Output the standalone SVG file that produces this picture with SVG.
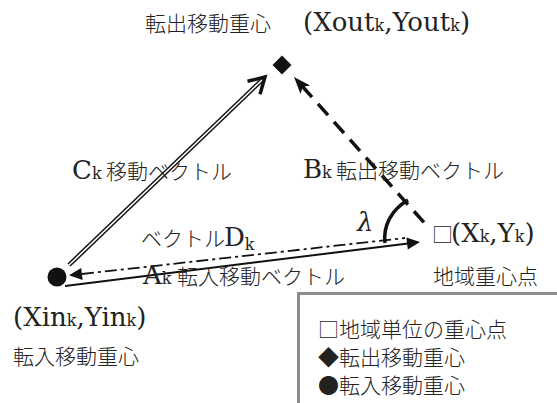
<svg xmlns="http://www.w3.org/2000/svg" width="557" height="403" viewBox="0 0 557 403">
<style>
.j{font-family:"Noto Sans CJK JP",sans-serif;font-size:21px;font-weight:300;fill:#222}
.l{font-family:"DejaVu Serif",serif;font-size:26px;fill:#222}
.s{font-size:16px}
.fill{fill:#111;stroke:none}
</style>
<rect width="557" height="403" fill="#fff"/>
<g id="connectors" fill="none" stroke="#111">
  <g id="vecC">
    <line x1="69" y1="265" x2="262" y2="80" stroke-width="4.5"/>
    <line x1="69" y1="265" x2="262" y2="80" stroke="#fff" stroke-width="1.6"/>
    <polyline points="247.5,81.3 265,77 260,94.3" stroke-width="3.5"/>
  </g>
  <g id="vecB">
    <line x1="302" y1="86" x2="428" y2="227" stroke-width="3.5" stroke-dasharray="15 9"/>
    <polygon class="fill" points="294,77 310.2,85.4 302.7,86.7 300.5,94"/>
  </g>
  <g id="vecA">
    <line x1="65" y1="286" x2="408" y2="243.5" stroke-width="2"/>
    <polygon class="fill" points="420,242 406.4,237.6 407.8,249.6"/>
  </g>
  <g id="vecD">
    <line x1="82" y1="274" x2="405" y2="238" stroke-width="1.8" stroke-dasharray="12 4 3 4"/>
    <polygon class="fill" points="69,275.3 81.2,267.9 82.6,279.9"/>
  </g>
  <path id="angle" d="M385,243 C383,226 391,210 408,200" stroke-width="3.5"/>
</g>
<g id="out-centroid">
  <polygon class="fill" points="282,55.5 291.5,65 282,74.5 272.5,65"/>
  <text y="31"><tspan class="j" x="145" font-size="20">転出移動重心</tspan><tspan class="l" x="303">(Xout</tspan><tspan class="l s">k</tspan><tspan class="l">,Yout</tspan><tspan class="l s">k</tspan><tspan class="l">)</tspan></text>
</g>
<g id="in-centroid">
  <circle cx="57" cy="277" r="9.5" class="fill"/>
  <text y="326"><tspan class="l" x="13">(Xin</tspan><tspan class="l s">k</tspan><tspan class="l">,Yin</tspan><tspan class="l s">k</tspan><tspan class="l">)</tspan></text>
  <text class="j" x="13" y="364">転入移動重心</text>
</g>
<g id="region-centroid">
  <text class="j" x="432" y="242" font-size="15">□</text>
  <text y="242"><tspan class="l" x="451">(X</tspan><tspan class="l s">k</tspan><tspan class="l">,Y</tspan><tspan class="l s">k</tspan><tspan class="l">)</tspan></text>
  <text class="j" x="433" y="284">地域重心点</text>
</g>
<g id="labels">
  <text y="179"><tspan class="l" x="72">C</tspan><tspan class="l s">k</tspan><tspan class="j" x="106">移動ベクトル</tspan></text>
  <text y="178"><tspan class="l" x="303">B</tspan><tspan class="l s">k</tspan><tspan class="j" x="336">転出移動ベクトル</tspan></text>
  <text class="l" x="357" y="231" font-style="italic">λ</text>
  <text y="246"><tspan class="j" x="141">ベクトル</tspan><tspan class="l" x="224">D</tspan><tspan class="l s" dy="4">k</tspan></text>
  <text y="284"><tspan class="l" x="143">A</tspan><tspan class="l s">k</tspan><tspan class="j" x="177">転入移動ベクトル</tspan></text>
</g>
<g id="legend">
  <rect x="298.5" y="293.5" width="300" height="200" fill="#fff" stroke="#8c8c8c" stroke-width="3"/>
  <text class="j" x="318" y="337">□地域単位の重心点</text>
  <text class="j" x="318" y="365">◆転出移動重心</text>
  <text class="j" x="318" y="393">●転入移動重心</text>
</g>
</svg>
